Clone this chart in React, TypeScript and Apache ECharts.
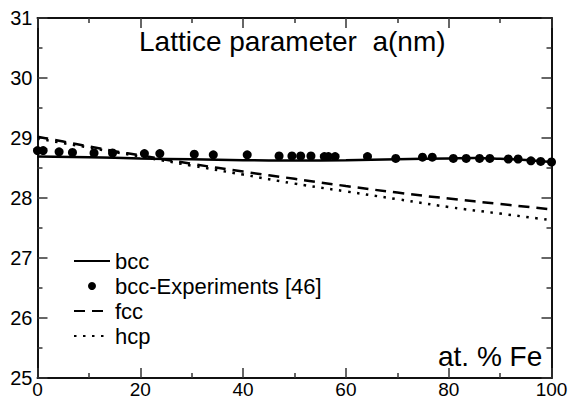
import React, { useEffect, useRef } from "react";
import * as echarts from "echarts";

const bccX = [0, 10, 20, 30, 40, 50, 60, 70, 80, 85, 90, 95, 100];
const bccY = [28.69, 28.68, 28.66, 28.645, 28.63, 28.625, 28.63, 28.645, 28.66, 28.665, 28.655, 28.635, 28.6];

const expX = [0, 1.1, 4.2, 6.8, 11, 14.6, 20.8, 23.8, 30.5, 34.2, 40.8, 47, 49.5, 51.2, 53.2, 55.8, 56.6, 57.9, 64.2, 69.7, 74.9, 76.8, 80.9, 83.4, 86, 88, 91.6, 93.5, 96, 97.9, 100];
const expY = [28.79, 28.79, 28.77, 28.76, 28.75, 28.75, 28.74, 28.74, 28.73, 28.72, 28.72, 28.7, 28.7, 28.7, 28.7, 28.69, 28.69, 28.69, 28.69, 28.66, 28.68, 28.68, 28.66, 28.66, 28.66, 28.66, 28.65, 28.65, 28.62, 28.61, 28.6];

const fccX = [0, 5, 10, 15, 20, 30, 40, 50, 60, 70, 80, 90, 100];
const fccY = [29.02, 28.94, 28.86, 28.78, 28.71, 28.57, 28.44, 28.32, 28.2, 28.09, 27.99, 27.9, 27.81];

const hcpX = [0, 10, 20, 30, 40, 50, 60, 70, 80, 90, 100];
const hcpY = [28.99, 28.84, 28.69, 28.54, 28.39, 28.24, 28.11, 27.98, 27.85, 27.74, 27.63];

const seriesNames = ["bcc", "bcc-Experiments [46]", "fcc", "hcp"];
const titleText = "Lattice parameter  a(nm)";
const xLabelText = "at. % Fe";

const pairs = (xs: number[], ys: number[]) => xs.map((x, i) => [x, ys[i]]);

const FONT = "'Liberation Sans', Arial, Helvetica, sans-serif";

export default function App() {
  const ref = useRef<HTMLDivElement>(null);
  useEffect(() => {
    document.body.style.margin = "0";
    const chart = echarts.init(ref.current!, null, { renderer: "svg" });
    const tickStyle = { color: "#333", width: 1.5 };
    const axisLine = { show: true, onZero: false, lineStyle: { color: "#111", width: 2 } };
    const xBase = {
      type: "value" as const,
      min: 0,
      max: 100,
      interval: 20,
      axisLine,
      axisTick: { show: true, inside: true, length: 10, lineStyle: tickStyle },
      minorTick: { show: true, splitNumber: 2, length: 5, lineStyle: tickStyle },
      splitLine: { show: false },
      minorSplitLine: { show: false },
    };
    const yBase = {
      type: "value" as const,
      min: 25,
      max: 31,
      interval: 1,
      axisLine,
      axisTick: { show: true, inside: true, length: 10, lineStyle: tickStyle },
      minorTick: { show: true, splitNumber: 2, length: 5, lineStyle: tickStyle },
      splitLine: { show: false },
      minorSplitLine: { show: false },
    };
    const hidden = { color: "transparent", borderColor: "transparent", borderWidth: 0, opacity: 0 };
    chart.setOption({
      animation: false,
      backgroundColor: "#fff",
      textStyle: { fontFamily: FONT },
      title: [
        {
          text: titleText,
          left: 139,
          top: 27,
          padding: 0,
          textStyle: { fontSize: 28, fontWeight: "normal", color: "#000", fontFamily: FONT },
        },
        {
          text: xLabelText,
          left: 438,
          top: 342,
          padding: 0,
          textStyle: { fontSize: 28, fontWeight: "normal", color: "#000", fontFamily: FONT },
        },
      ],
      grid: {
        left: 37.5,
        right: 21.5,
        top: 18,
        bottom: 22,
        containLabel: false,
        outerBoundsMode: "none",
      },
      legend: {
        orient: "vertical",
        left: 68,
        top: 244,
        itemWidth: 36,
        itemHeight: 8,
        itemGap: 1,
        itemTextGap: 12,
        textStyle: { fontSize: 22, color: "#000", fontFamily: FONT, lineHeight: 24 },
        data: [
          { name: seriesNames[0], itemStyle: hidden },
          { name: seriesNames[1], icon: "circle", itemStyle: { color: "#000", opacity: 1 } },
          { name: seriesNames[2], itemStyle: hidden },
          { name: seriesNames[3], itemStyle: hidden },
        ],
      },
      xAxis: [
        {
          ...xBase,
          position: "bottom",
          axisLabel: { show: true, fontSize: 19, lineHeight: 16, color: "#000", margin: 3, fontFamily: FONT },
        },
        {
          ...xBase,
          position: "top",
          axisLabel: { show: false },
        },
      ],
      yAxis: [
        {
          ...yBase,
          position: "left",
          axisLabel: { show: true, fontSize: 20, color: "#000", margin: 5, fontFamily: FONT },
        },
        {
          ...yBase,
          position: "right",
          axisLabel: { show: false },
        },
      ],
      series: [
        {
          name: seriesNames[0],
          type: "line",
          data: pairs(bccX, bccY),
          smooth: true,
          symbol: "none",
          lineStyle: { color: "#000", width: 2.5, type: "solid" },
          itemStyle: { color: "#000" },
          z: 3,
        },
        {
          name: seriesNames[1],
          type: "scatter",
          data: pairs(expX, expY),
          symbol: "circle",
          symbolSize: 9,
          itemStyle: { color: "#000", opacity: 1 },
          z: 4,
        },
        {
          name: seriesNames[2],
          type: "line",
          data: pairs(fccX, fccY),
          smooth: true,
          symbol: "none",
          lineStyle: { color: "#000", width: 2.5, type: [11, 7] },
          itemStyle: { color: "#000" },
          z: 2,
        },
        {
          name: seriesNames[3],
          type: "line",
          data: pairs(hcpX, hcpY),
          smooth: true,
          symbol: "none",
          lineStyle: { color: "#000", width: 2.5, type: [2.5, 6.5] },
          itemStyle: { color: "#000" },
          z: 2,
        },
      ],
    });
    return () => chart.dispose();
  }, []);
  return <div ref={ref} style={{ width: 573, height: 400 }} />;
}
